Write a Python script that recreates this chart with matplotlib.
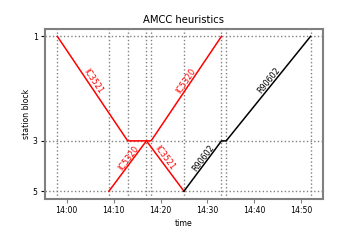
import math
from datetime import datetime
import matplotlib
matplotlib.use('Agg')
import matplotlib.pyplot as plt
import matplotlib.dates as mdates

# station block positions (distance along the line)
stations = [1, 3, 5]
station_pos = {1: 0.0, 3: 4.05, 5: 6.0}

def t(s):
    return datetime.strptime('2015-01-01 ' + s, '%Y-%m-%d %H:%M')

# trains: name, colour, times, blocks
ic3521_times = ['13:58', '14:13', '14:17', '14:25']
ic3521_blocks = [1, 3, 3, 5]
ic5320_times = ['14:09', '14:17', '14:18', '14:33']
ic5320_blocks = [5, 3, 3, 1]
r90602_times = ['14:25', '14:33', '14:34', '14:52']
r90602_blocks = [5, 3, 3, 1]

trains = [
    ('IC3521', 'red', ic3521_times, ic3521_blocks),
    ('IC5320', 'red', ic5320_times, ic5320_blocks),
    ('R90602', 'black', r90602_times, r90602_blocks),
]

fig = plt.figure(figsize=(3.6, 2.4), dpi=100)
ax = fig.add_axes([0.124, 0.171, 0.774, 0.71])

event_times = set()
for name, col, times, blocks in trains:
    xs = [t(s) for s in times]
    ys = [station_pos[b] for b in blocks]
    ax.plot(xs, ys, color=col, lw=1.1)
    event_times.update(times)

ax.invert_yaxis()
ax.set_yticks([station_pos[s] for s in stations])
ax.set_yticklabels([str(s) for s in stations])
ax.xaxis.set_major_locator(mdates.MinuteLocator(byminute=[0, 10, 20, 30, 40, 50]))
ax.xaxis.set_major_formatter(mdates.DateFormatter('%H:%M'))

# dotted grid at event times and stations
for s in sorted(event_times):
    ax.axvline(t(s), color='gray', ls=':', lw=1, zorder=0)
for s in stations:
    ax.axhline(station_pos[s], color='gray', ls=':', lw=1, zorder=0)

ax.set_title('AMCC heuristics', fontsize=7.2, pad=4)
ax.set_xlabel('time', fontsize=5.6, labelpad=3)
ax.set_ylabel('station block', fontsize=5.6, labelpad=1)
ax.tick_params(labelsize=5.6, length=3, width=0.8, pad=2)
ax.tick_params(axis='x', color='gray')
for sp in ax.spines.values():
    sp.set_color('gray')
    sp.set_linewidth(1.5)

fig.canvas.draw()

# labels along the moving segments, a bit above the middle
for name, col, times, blocks in trains:
    xs = [mdates.date2num(t(s)) for s in times]
    ys = [station_pos[b] for b in blocks]
    for i in range(len(xs) - 1):
        if ys[i] == ys[i + 1]:
            continue
        p0 = ax.transData.transform((xs[i], ys[i]))
        p1 = ax.transData.transform((xs[i + 1], ys[i + 1]))
        ang = math.degrees(math.atan2(p1[1] - p0[1], p1[0] - p0[0]))
        if ang > 90:
            ang -= 180
        if ang < -90:
            ang += 180
        # fraction from the upper end (smaller block number)
        f = 0.45 if min(blocks[i], blocks[i + 1]) == 1 else 0.39
        if ys[i] < ys[i + 1]:
            fx = f
        else:
            fx = 1 - f
        lx = xs[i] + fx * (xs[i + 1] - xs[i])
        ly = ys[i] + fx * (ys[i + 1] - ys[i])
        ax.text(lx, ly, name, color=col, fontsize=5.8, rotation=ang,
                rotation_mode='anchor', ha='center', va='bottom')

fig.savefig('out.png', dpi=100)
